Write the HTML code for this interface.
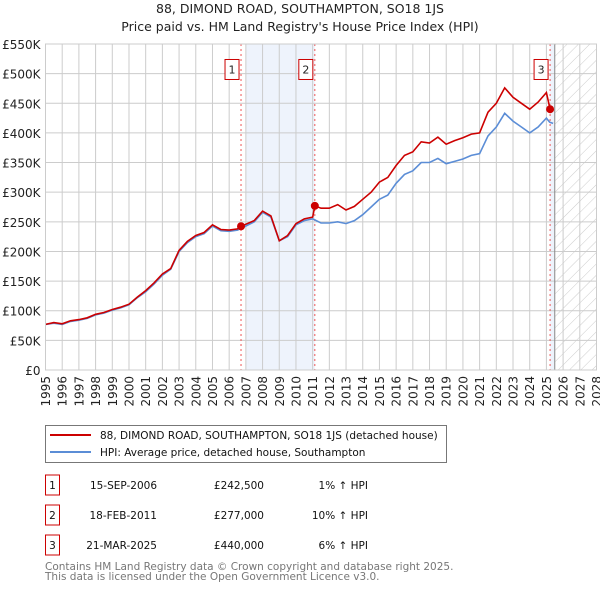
<!DOCTYPE html>
<html><head><meta charset="utf-8"><style>
body{margin:0;background:#fff;}
svg text{font-family:"DejaVu Sans","Liberation Sans",sans-serif;}
</style></head><body>
<svg id="chart" width="600" height="590" xmlns="http://www.w3.org/2000/svg">
<defs><pattern id="hatch" width="8" height="8" patternUnits="userSpaceOnUse" patternTransform="rotate(45)"><line x1="0" y1="0" x2="0" y2="8" stroke="#ccc" stroke-width="1"/></pattern></defs>
<text x="300" y="13" text-anchor="middle" font-size="12.5" fill="#222">88, DIMOND ROAD, SOUTHAMPTON, SO18 1JS</text>
<text x="300" y="31" text-anchor="middle" font-size="12.5" fill="#222">Price paid vs. HM Land Registry's House Price Index (HPI)</text>
<g id="plot"></g>
<g>
<rect x="45.5" y="425.5" width="401" height="37" fill="#fff" stroke="#777"/>
<line x1="50" y1="435" x2="91" y2="435" stroke="#cc0000" stroke-width="2"/>
<text x="100" y="439" font-size="10.5" fill="#111">88, DIMOND ROAD, SOUTHAMPTON, SO18 1JS (detached house)</text>
<line x1="50" y1="452" x2="91" y2="452" stroke="#5b8dd6" stroke-width="2"/>
<text x="100" y="456" font-size="10.5" fill="#111">HPI: Average price, detached house, Southampton</text>
</g>
<g id="table" font-size="10.5" fill="#111"></g>
<text x="45" y="570" font-size="10.5" fill="#777">Contains HM Land Registry data © Crown copyright and database right 2025.</text>
<text x="45" y="580" font-size="10.5" fill="#777">This data is licensed under the Open Government Licence v3.0.</text>
</svg>
<script>
const hpiYears=[1995,1995.5,1996,1996.5,1997,1997.5,1998,1998.5,1999,1999.5,2000,2000.5,2001,2001.5,2002,2002.5,2003,2003.5,2004,2004.5,2005,2005.5,2006,2006.5,2007,2007.5,2008,2008.5,2009,2009.5,2010,2010.5,2011,2011.5,2012,2012.5,2013,2013.5,2014,2014.5,2015,2015.5,2016,2016.5,2017,2017.5,2018,2018.5,2019,2019.5,2020,2020.5,2021,2021.5,2022,2022.5,2023,2023.5,2024,2024.5,2025,2025.2,2025.4];
const hpiValues=[77,79,77,82,84,87,93,96,101,105,110,122,132,145,160,170,200,215,225,230,243,235,234,236,243,250,266,258,218,225,245,252,255,248,248,250,247,252,262,275,288,295,315,330,336,350,350,357,348,352,356,362,365,395,410,433,420,410,400,410,425,418,416];
const priceYears=[1995,1995.5,1996,1996.5,1997,1997.5,1998,1998.5,1999,1999.5,2000,2000.5,2001,2001.5,2002,2002.5,2003,2003.5,2004,2004.5,2005,2005.5,2006,2006.5,2006.71,2007,2007.5,2008,2008.5,2009,2009.5,2010,2010.5,2011,2011.13,2011.5,2012,2012.5,2013,2013.5,2014,2014.5,2015,2015.5,2016,2016.5,2017,2017.5,2018,2018.5,2019,2019.5,2020,2020.5,2021,2021.5,2022,2022.5,2023,2023.5,2024,2024.5,2025,2025.22,2025.4];
const priceValues=[77,80,78,83,85,88,94,97,102,106,111,123,134,147,162,171,202,217,227,232,245,237,236,238,242.5,246,252,268,260,218,227,247,255,258,277,273,273,279,270,276,288,300,317,325,345,362,368,385,383,393,381,387,392,398,400,435,450,476,460,450,440,452,468,440,440];
const sales=[{n:"1",t:2006.71,v:242.5,d:"15-SEP-2006",p:"£242,500",h:"1% ↑ HPI"},{n:"2",t:2011.13,v:277,d:"18-FEB-2011",p:"£277,000",h:"10% ↑ HPI"},{n:"3",t:2025.22,v:440,d:"21-MAR-2025",p:"£440,000",h:"6% ↑ HPI"}];
const yTicks=[0,50,100,150,200,250,300,350,400,450,500,550];
const yTickLabels=["£0","£50K","£100K","£150K","£200K","£250K","£300K","£350K","£400K","£450K","£500K","£550K"];
const xTicks=[1995,1996,1997,1998,1999,2000,2001,2002,2003,2004,2005,2006,2007,2008,2009,2010,2011,2012,2013,2014,2015,2016,2017,2018,2019,2020,2021,2022,2023,2024,2025,2026,2027,2028];

const NS="http://www.w3.org/2000/svg";
const L=45.5,R=596.5,T=44,B=370;
const x=t=>L+(t-1995)/(2028-1995)*(R-L);
const y=v=>B-v/550*(B-T);
const plot=document.getElementById('plot');
function mk(tag,attrs,parent){const e=document.createElementNS(NS,tag);for(const k in attrs)e.setAttribute(k,attrs[k]);(parent||plot).appendChild(e);return e;}
let e;
e=mk('rect',{x:x(2007),y:T,width:x(2011.13)-x(2007),height:B-T,fill:'#eef3fc'});


e=mk('rect',{x:x(2025.22),y:T,width:x(2025.5)-x(2025.22),height:B-T,fill:'#eef3fc'});


e=mk('rect',{x:x(2025.5),y:T,width:R-x(2025.5),height:B-T,fill:'url(#hatch)'});


yTicks.forEach((v,i)=>{
  e=mk('line',{x1:L,x2:R,y1:y(v),y2:y(v),stroke:'#ccc','stroke-width':1});
  
  
  e=mk('text',{x:L-5,y:y(v)+5,'text-anchor':'end','font-size':12,fill:'#222'});
  e.textContent=yTickLabels[i];
  
  
});
xTicks.forEach(t=>{
  e=mk('line',{x1:x(t),x2:x(t),y1:T,y2:B,stroke:'#ccc','stroke-width':1});
  
  
  e=mk('text',{transform:`translate(${x(t)+4.5},${B+6}) rotate(-90)`,'text-anchor':'end','font-size':12,fill:'#222'});
  e.textContent=t;
  
  
});
e=mk('line',{x1:x(2025.5),x2:x(2025.5),y1:T,y2:B,stroke:'#888','stroke-width':1});


sales.forEach(s=>{
  e=mk('line',{x1:x(s.t),x2:x(s.t),y1:T,y2:B,stroke:'#e55','stroke-width':1,'stroke-dasharray':'2,3'});
  
  
});
const path=(xs,vs)=>xs.map((t,i)=>(i?'L':'M')+x(t).toFixed(1)+','+y(vs[i]).toFixed(1)).join('');
e=mk('path',{d:path(hpiYears,hpiValues),fill:'none',stroke:'#5b8dd6','stroke-width':1.6});


e=mk('path',{d:path(priceYears,priceValues),fill:'none',stroke:'#cc0000','stroke-width':1.6});


sales.forEach(s=>{
  e=mk('circle',{cx:x(s.t),cy:y(s.v),r:4,fill:'#cc0000'});
  
  
  const bx=x(s.t)-7-9,by=y(507);
  const g=mk('g',{});
  
  
  mk('rect',{x:bx,y:by-10,width:14,height:20,fill:'#fff',stroke:'#cc0000'},g);
  const tx=mk('text',{x:bx+7,y:by+4,'text-anchor':'middle','font-size':11,fill:'#222'},g);tx.textContent=s.n;
});
e=mk('rect',{x:L,y:T,width:R-L,height:B-T,fill:'none',stroke:'#ccc'});


const tb=document.getElementById('table');
sales.forEach((s,i)=>{
  const cy=485+i*30;
  const g=mk('g',{},tb);
  
  
  mk('rect',{x:45.5,y:cy-10,width:14,height:20,fill:'#fff',stroke:'#cc0000'},g);
  let t=mk('text',{x:52.5,y:cy+4,'text-anchor':'middle'},g);t.textContent=s.n;
  t=mk('text',{x:157,y:cy+4,'text-anchor':'end'},g);t.textContent=s.d;
  t=mk('text',{x:264,y:cy+4,'text-anchor':'end'},g);t.textContent=s.p;
  t=mk('text',{x:368,y:cy+4,'text-anchor':'end'},g);t.textContent=s.h;
});
</script>
</body></html>
